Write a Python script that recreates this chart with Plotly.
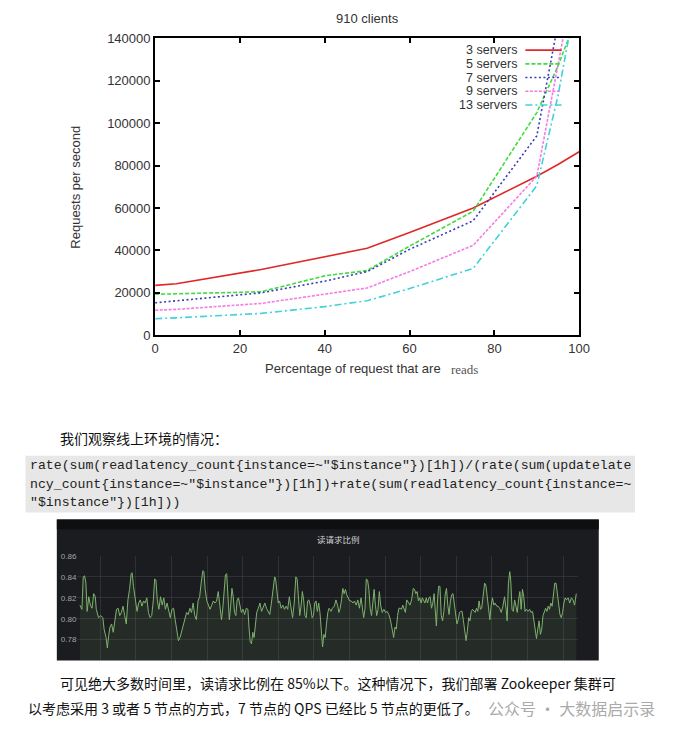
import plotly.graph_objects as go

W, H = 689, 743


def px(x):
    return x / W


def py(y):
    return 1 - y / H


# ---------------- top chart data ----------------
read_pct = [0, 5, 25, 40, 50, 60, 75, 90, 95, 100]
servers_3 = [23500, 24300, 31000, 37000, 41000, 48500, 60000, 75000, 80500, 86500]
servers_5 = [19300, 19600, 20500, 28000, 30500, 42000, 58500, 105000, 127000, 153000]
servers_7 = [15300, 16200, 20000, 25500, 30000, 40500, 54000, 94000, 146000, 200000]
servers_9 = [11800, 12200, 15000, 19300, 22300, 30000, 42400, 75000, 129000, 180000]
servers_13 = [7800, 8200, 10300, 13500, 16300, 22000, 31500, 70500, 113000, 167000]
series_names = ["3 servers", "5 servers", "7 servers", "9 servers", "13 servers"]
x_ticks = [0, 20, 40, 60, 80, 100]
y_ticks = [0, 20000, 40000, 60000, 80000, 100000, 120000, 140000]

# ---------------- grafana panel data (read ratio over time) ----------------
minutes = [
    8, 14, 18, 22, 26, 30, 35, 40, 45, 50, 55, 58, 65, 72, 78, 82, 88, 92, 96, 100,
    105, 110, 115, 120, 125, 130, 135, 140, 145, 150, 155, 160, 165, 168, 172, 178, 183, 188, 193, 198,
    203, 208, 213, 218, 223, 228, 233, 237, 241, 245, 250, 255, 260, 265, 270, 275, 280, 285, 290, 295,
    300, 305, 310, 315, 320, 325, 330, 335, 340, 345, 350, 355, 360, 365, 370, 375, 380, 385, 388, 392,
    397, 402, 407, 412, 417, 422, 427, 432, 437, 442, 446, 450, 454, 458, 462, 466, 470, 474, 478, 482,
    486, 490, 494, 498, 503, 508, 513, 518, 523,
    526, 530, 534, 538, 542, 546, 550, 555, 560, 565, 570, 575, 580, 585, 590, 595, 600, 605, 608, 612,
    616, 620, 625, 630, 635, 640, 645, 650, 655, 660, 665, 670, 674, 678, 682, 686, 690, 694, 698, 702,
    706, 710, 715, 720, 724, 728, 732, 736, 740, 744, 748, 752, 756, 760, 764, 768, 772, 778, 782, 788,
    793, 798, 802, 806, 810, 814, 818, 822, 826, 830, 835, 840, 845, 850, 855, 860, 865, 870, 874, 878,
    882, 886, 890, 894, 898, 902, 906, 910, 914, 918, 922, 926, 930, 935, 940, 945, 950, 955, 960, 965,
    970, 974, 978, 982, 986, 990, 994, 998, 1002, 1006, 1010, 1015, 1020, 1025, 1030, 1034,
    1038, 1042, 1046, 1050, 1054, 1058, 1062, 1066, 1070, 1074, 1078, 1082, 1086, 1090, 1094, 1098, 1101, 1105, 1108, 1112,
    1116, 1120, 1124, 1128, 1132, 1136, 1140, 1144, 1148, 1152, 1156, 1160, 1164, 1168, 1172, 1176, 1180, 1184, 1188, 1192,
    1196, 1200, 1204, 1208, 1212, 1216, 1220, 1224, 1228, 1232, 1236, 1240, 1245, 1249, 1253, 1257, 1261, 1265, 1269, 1273,
    1277, 1281, 1286, 1290, 1295, 1300, 1305, 1310, 1315, 1318, 1322, 1326, 1329, 1333, 1337, 1341, 1345, 1349, 1353, 1357,
    1361, 1365, 1369, 1373, 1377, 1382, 1387, 1391, 1396, 1400, 1404, 1408, 1412, 1416, 1420, 1424, 1428, 1432, 1436, 1440,
    1444, 1448, 1452, 1456, 1460, 1464, 1468, 1472, 1476, 1480, 1484, 1488, 1492, 1496, 1500, 1505, 1510, 1515, 1520, 1525,
    1530,
]
read_ratio = [
    0.813, 0.809, 0.840, 0.841, 0.835, 0.807, 0.821, 0.813, 0.810, 0.824, 0.821, 0.809, 0.801, 0.803, 0.801, 0.790, 0.782, 0.772, 0.784, 0.792,
    0.795, 0.787, 0.798, 0.809, 0.810, 0.803, 0.806, 0.812, 0.803, 0.795, 0.818, 0.828, 0.843, 0.844, 0.831, 0.815, 0.807, 0.815, 0.818, 0.812,
    0.817, 0.815, 0.820, 0.806, 0.801, 0.803, 0.818, 0.838, 0.837, 0.818, 0.809, 0.821, 0.813, 0.820, 0.809, 0.815, 0.806, 0.801, 0.809, 0.810,
    0.799, 0.790, 0.779, 0.782, 0.788, 0.793, 0.798, 0.806, 0.804, 0.810, 0.806, 0.815, 0.803, 0.799, 0.817, 0.821, 0.835, 0.846, 0.845, 0.828,
    0.817, 0.813, 0.809, 0.813, 0.817, 0.815, 0.817, 0.826, 0.810, 0.799, 0.810, 0.831, 0.842, 0.843, 0.815, 0.799, 0.812, 0.829, 0.821, 0.806,
    0.803, 0.818, 0.820, 0.813, 0.806, 0.809, 0.804, 0.810, 0.809,
    0.793, 0.778, 0.776, 0.787, 0.782, 0.793, 0.806, 0.810, 0.815, 0.807, 0.812, 0.815, 0.810, 0.807, 0.804, 0.815, 0.828, 0.840, 0.838, 0.824,
    0.815, 0.817, 0.810, 0.813, 0.809, 0.812, 0.809, 0.821, 0.810, 0.801, 0.815, 0.840, 0.838, 0.824, 0.803, 0.812, 0.826, 0.818, 0.803, 0.801,
    0.817, 0.818, 0.812, 0.801, 0.803, 0.815, 0.817, 0.807, 0.815, 0.806, 0.793, 0.773, 0.785, 0.782, 0.795, 0.806, 0.810, 0.807, 0.810, 0.812,
    0.818, 0.813, 0.806, 0.810, 0.818, 0.829, 0.824, 0.828, 0.823, 0.820, 0.817, 0.817, 0.815, 0.817, 0.813, 0.818, 0.810, 0.820, 0.810, 0.801,
    0.809, 0.838, 0.837, 0.828, 0.810, 0.803, 0.815, 0.828, 0.813, 0.803, 0.809, 0.826, 0.813, 0.806, 0.809, 0.806, 0.807, 0.804, 0.799, 0.790,
    0.782, 0.792, 0.790, 0.803, 0.810, 0.810, 0.809, 0.813, 0.809, 0.806, 0.818, 0.815, 0.813, 0.818, 0.829, 0.828,
    0.824, 0.826, 0.817, 0.820, 0.815, 0.820, 0.818, 0.815, 0.820, 0.815, 0.820, 0.821, 0.810, 0.815, 0.824, 0.806, 0.793, 0.820, 0.831, 0.831,
    0.803, 0.798, 0.807, 0.823, 0.829, 0.813, 0.804, 0.817, 0.823, 0.824, 0.815, 0.803, 0.795, 0.799, 0.806, 0.807, 0.807, 0.798, 0.787, 0.779,
    0.788, 0.801, 0.798, 0.807, 0.809, 0.807, 0.806, 0.810, 0.807, 0.817, 0.809, 0.810, 0.824, 0.834, 0.832, 0.821, 0.806, 0.799, 0.813, 0.820,
    0.813, 0.815, 0.812, 0.812, 0.810, 0.806, 0.812, 0.821, 0.809, 0.798, 0.834, 0.845, 0.837, 0.809, 0.807, 0.818, 0.812, 0.806, 0.818, 0.826,
    0.809, 0.828, 0.821, 0.807, 0.809, 0.807, 0.809, 0.806, 0.807, 0.798, 0.792, 0.781, 0.790, 0.798, 0.785, 0.790, 0.803, 0.807, 0.810, 0.807,
    0.812, 0.809, 0.815, 0.812, 0.826, 0.834, 0.834, 0.824, 0.810, 0.804, 0.801, 0.806, 0.815, 0.820, 0.818, 0.820, 0.815, 0.820, 0.818, 0.813,
    0.824,
]
ratio_ticks = [0.78, 0.80, 0.82, 0.84, 0.86]
assert len(minutes) == len(read_ratio), (len(minutes), len(read_ratio))

# ---------------- text content ----------------
chart_title = "910 clients"
y_title = "Requests per second"
x_title_main = "Percentage of request that are"
x_title_tail = "reads"
intro_text = "我们观察线上环境的情况："
code_lines = [
    'rate(sum(readlatency_count{instance=~"$instance"})[1h])/(rate(sum(updatelate',
    'ncy_count{instance=~"$instance"})[1h])+rate(sum(readlatency_count{instance=~',
    '"$instance"})[1h]))',
]
panel_title = "读请求比例"
para_lines = [
    "可见绝大多数时间里，读请求比例在 85%以下。这种情况下，我们部署 Zookeeper 集群可",
    "以考虑采用 3 或者 5 节点的方式，7 节点的 QPS 已经比 5 节点的更低了。",
]
watermark = "公众号 · 大数据启示录"

# ---------------- styles ----------------
colors = ["#e02828", "#3fdc3f", "#3a3ab8", "#f47ce4", "#40d2d8"]
dashes = ["solid", "4px,2px", "2px,2.5px", "3px,1.5px", "7px,3px,2px,3px"]
SANS = "Liberation Sans, Arial, sans-serif"
CJK = "Noto Sans CJK SC"
MONO = "Liberation Mono, DejaVu Sans Mono, monospace"

fig = go.Figure()

for name, vals, c, d in zip(series_names,
                            [servers_3, servers_5, servers_7, servers_9, servers_13],
                            colors, dashes):
    fig.add_trace(go.Scatter(
        x=read_pct, y=vals, mode="lines", name=name,
        line=dict(color=c, width=1.6, dash=d),
        xaxis="x", yaxis="y", showlegend=False,
    ))

fig.add_trace(go.Scatter(
    x=minutes, y=read_ratio, mode="lines",
    line=dict(color="#7eb26d", width=1),
    fill="tozeroy", fillcolor="rgba(126,178,109,0.10)",
    xaxis="x2", yaxis="y2", showlegend=False,
))

shapes = []
annotations = []

# dark grafana panel background
shapes.append(dict(type="rect", xref="paper", yref="paper", layer="below",
                   x0=px(54), x1=px(608), y0=py(667), y1=py(523),
                   fillcolor="#1b1c20", line=dict(width=0)))
shapes.append(dict(type="rect", xref="paper", yref="paper", layer="below",
                   x0=px(54), x1=px(608), y0=py(533), y1=py(523),
                   fillcolor="#0e0f11", line=dict(width=0)))
# code block background
shapes.append(dict(type="rect", xref="paper", yref="paper", layer="below",
                   x0=px(22), x1=px(645), y0=py(516), y1=py(458),
                   fillcolor="#e7e7e7", line=dict(width=0)))

# custom legend (text right, sample line at right)
legend_rows = [44, 58, 72, 86, 100]
for name, c, d, yy in zip(series_names, colors, dashes, legend_rows):
    annotations.append(dict(text=name, xref="paper", yref="paper",
                            x=px(526), y=py(yy), xanchor="right", yanchor="middle",
                            showarrow=False, font=dict(family=SANS, size=12.5, color="#333")))
    shapes.append(dict(type="line", xref="paper", yref="paper",
                       x0=px(533), x1=px(570), y0=py(yy), y1=py(yy),
                       line=dict(color=c, width=1.6, dash=d)))

# chart titles
annotations += [
    dict(text=chart_title, xref="paper", yref="paper", x=px(372), y=py(12),
         xanchor="center", yanchor="middle", showarrow=False,
         font=dict(family=SANS, size=13, color="#333")),
    dict(text=y_title, xref="paper", yref="paper", x=px(73), y=py(184),
         xanchor="center", yanchor="middle", showarrow=False, textangle=-90,
         font=dict(family=SANS, size=13, color="#333")),
    dict(text=x_title_main, xref="paper", yref="paper", x=px(449), y=py(369),
         xanchor="right", yanchor="middle", showarrow=False,
         font=dict(family=SANS, size=13, color="#333")),
    dict(text=x_title_tail, xref="paper", yref="paper", x=px(455), y=py(370),
         xanchor="left", yanchor="middle", showarrow=False,
         font=dict(family="Liberation Serif, serif", size=13, color="#555")),
    dict(text=intro_text, xref="paper", yref="paper", x=px(55), y=py(440),
         xanchor="left", yanchor="middle", showarrow=False,
         font=dict(family=CJK, size=14, color="#111")),
    dict(text=panel_title, xref="paper", yref="paper", x=px(342), y=py(543),
         xanchor="center", yanchor="middle", showarrow=False,
         font=dict(family=CJK, size=8.5, color="#d0d1d3")),
    dict(text=para_lines[0], xref="paper", yref="paper", x=px(55), y=py(690),
         xanchor="left", yanchor="middle", showarrow=False,
         font=dict(family=CJK, size=14, color="#111")),
    dict(text=para_lines[1], xref="paper", yref="paper", x=px(22), y=py(715),
         xanchor="left", yanchor="middle", showarrow=False,
         font=dict(family=CJK, size=14, color="#111")),
    dict(text=watermark, xref="paper", yref="paper", x=px(668), y=py(715),
         xanchor="right", yanchor="middle", showarrow=False,
         font=dict(family=CJK, size=16, color="#aaaaaa")),
]
for line, yy in zip(code_lines, [468, 487, 506]):
    annotations.append(dict(text=line, xref="paper", yref="paper", x=px(25), y=py(yy),
                            xanchor="left", yanchor="middle", showarrow=False,
                            font=dict(family=MONO, size=13.2, color="#222")))

axis_frame = dict(showline=True, linewidth=2, linecolor="black", mirror="allticks",
                  ticks="inside", ticklen=5, tickwidth=1.5, tickcolor="black",
                  showgrid=False, zeroline=False,
                  tickfont=dict(family=SANS, size=13, color="#333"))

fig.update_layout(
    width=W, height=H,
    margin=dict(l=0, r=0, t=0, b=0),
    paper_bgcolor="white", plot_bgcolor="white",
    showlegend=False,
    xaxis=dict(domain=[px(154.5), px(588)], range=[0, 100], tickvals=x_ticks,
               anchor="y", **axis_frame),
    yaxis=dict(domain=[py(335), py(32)], range=[0, 140000], tickvals=y_ticks,
               tickformat="d", anchor="x", **axis_frame),
    xaxis2=dict(domain=[px(75), px(587)], range=[0, 1536], anchor="y2",
                showticklabels=False, ticks="", showline=False, zeroline=False,
                showgrid=True, gridcolor="rgba(255,255,255,0.09)", gridwidth=1,
                tick0=70, dtick=109.2),
    yaxis2=dict(domain=[py(667), py(560.3)], range=[0.76, 0.86], anchor="x2",
                tickvals=ratio_ticks, tickformat=".2f", ticks="", showline=False,
                zeroline=False, showgrid=True, gridcolor="rgba(255,255,255,0.09)",
                tickfont=dict(family=SANS, size=8, color="#a3a3a6")),
    shapes=shapes,
    annotations=annotations,
)

fig.write_html(
    "out.html",
    config={"displayModeBar": False},
    post_script="document.body.style.margin='0';"
                "document.documentElement.style.overflow='hidden';",
)
